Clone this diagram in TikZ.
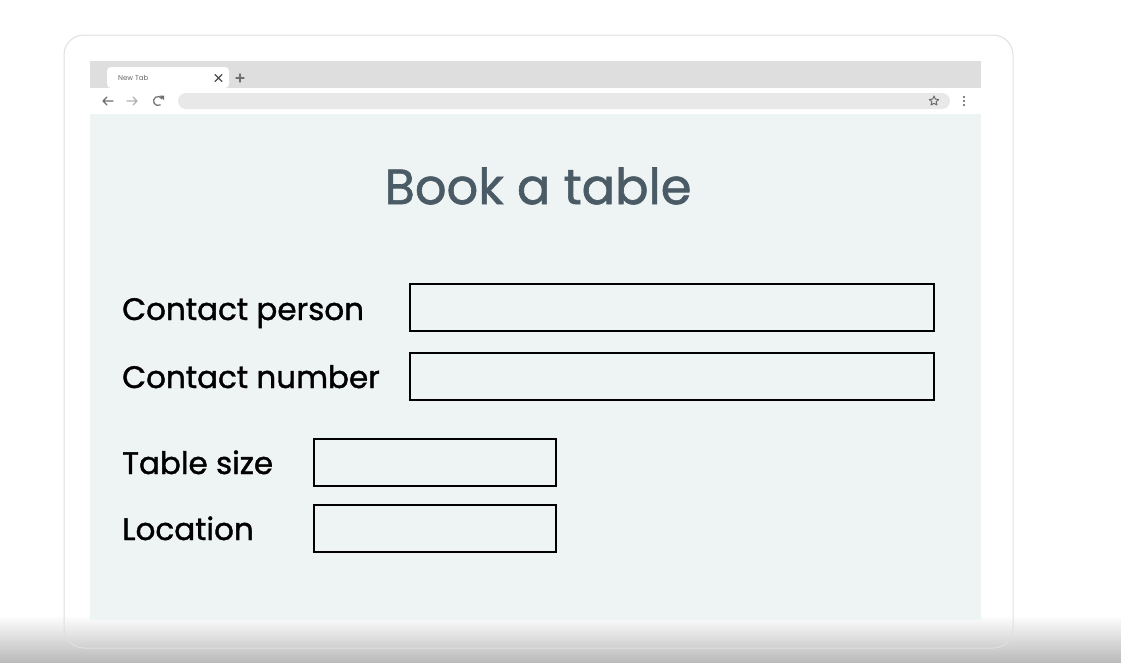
\documentclass[tikz,border=0pt]{standalone}
\usepackage{fontspec}
\setmainfont{Poppins}
\newfontfamily\labelfont{Poppins}[FakeBold=1.2]
\usetikzlibrary{shapes.geometric}
\usetikzlibrary{arrows}
\definecolor{screenbg}{HTML}{EEF3F3}
\definecolor{tabbar}{HTML}{DEDEDE}
\definecolor{urlbar}{HTML}{E8E8E8}
\definecolor{icongray}{HTML}{6E6E6E}
\definecolor{titleblue}{HTML}{4A5B66}
\tikzset{
  fieldlabel/.style={anchor=base west, inner sep=0pt, font=\labelfont\fontsize{31}{36}\selectfont},
  fieldbox/.style={draw=black, line width=2pt, fill=screenbg, anchor=north west, inner sep=0pt},
  icon/.style={draw=icongray, line width=1.2pt, line cap=round, line join=round}
}
\begin{document}
\begin{tikzpicture}[x=1pt,y=-1pt]
\useasboundingbox (0,0) rectangle (1121,662);
\fill[white] (0,0) rectangle (1121,662);
% bottom shadow
\shade[top color=white, bottom color=black!27] (0,615) rectangle (1121,662);
% laptop frame
\draw[black!12, line width=1pt, rounded corners=20pt] (64,35) rectangle (1013,648);
% browser chrome
\fill[tabbar] (90,61) rectangle (981,88);
\fill[white, rounded corners=4pt] (107,88) -- (107,67) -- (229,67) -- (229,88) -- cycle;
\fill[white] (90,88) rectangle (981,114);
\node[anchor=west, inner sep=0pt, text=black!60, font=\fontsize{7}{8}\selectfont] (tabname) at (118,78) {New Tab};
\draw[icon, black!70, line width=1.4pt] (215,74.5) -- (222,81.5) (215,81.5) -- (222,74.5);
\draw[icon] (236,78) -- (244,78) (240,74) -- (240,82);
% back, forward, reload
\draw[icon] (103,101) -- (113,101) (107,97) -- (103,101) -- (107,105);
\draw[icon, draw=black!30] (127,101) -- (137,101) (133,97) -- (137,101) -- (133,105);
\draw[icon] (158,101) ++(-60:4.5pt) arc[start angle=-60, end angle=-330, radius=4.5pt];
\fill[icongray] (159.5,95.5) -- (164,95.5) -- (164,100) -- cycle;
\fill[urlbar, rounded corners=8pt] (178,93) rectangle (950,109);
\node[star, star points=5, star point ratio=2.2, icon, line width=1pt, inner sep=0pt, minimum size=10pt] (fav) at (934,101) {};
\foreach \y in {97,101,105} {\fill[black!65] (964,\y) circle (1.2pt);}
% page
\fill[screenbg] (90,114) rectangle (981,620);
\node[text=titleblue, font=\labelfont\fontsize{49.5}{56}\selectfont, inner sep=0pt] (title) at (538,186) {Book a table};
\node[fieldlabel] (lperson) at (122,320) {Contact person};
\node[fieldlabel] (lnumber) at (122,388) {Contact number};
\node[fieldlabel] (lsize) at (122,474) {Table size};
\node[fieldlabel] (lloc) at (122,540) {Location};
\node[fieldbox, minimum width=524pt, minimum height=47pt] (bperson) at (408.5,283) {};
\node[fieldbox, minimum width=524pt, minimum height=47pt] (bnumber) at (408.5,352) {};
\node[fieldbox, minimum width=242pt, minimum height=47pt] (bsize) at (313,438) {};
\node[fieldbox, minimum width=242pt, minimum height=47pt] (bloc) at (313,504) {};
\end{tikzpicture}
\end{document}
